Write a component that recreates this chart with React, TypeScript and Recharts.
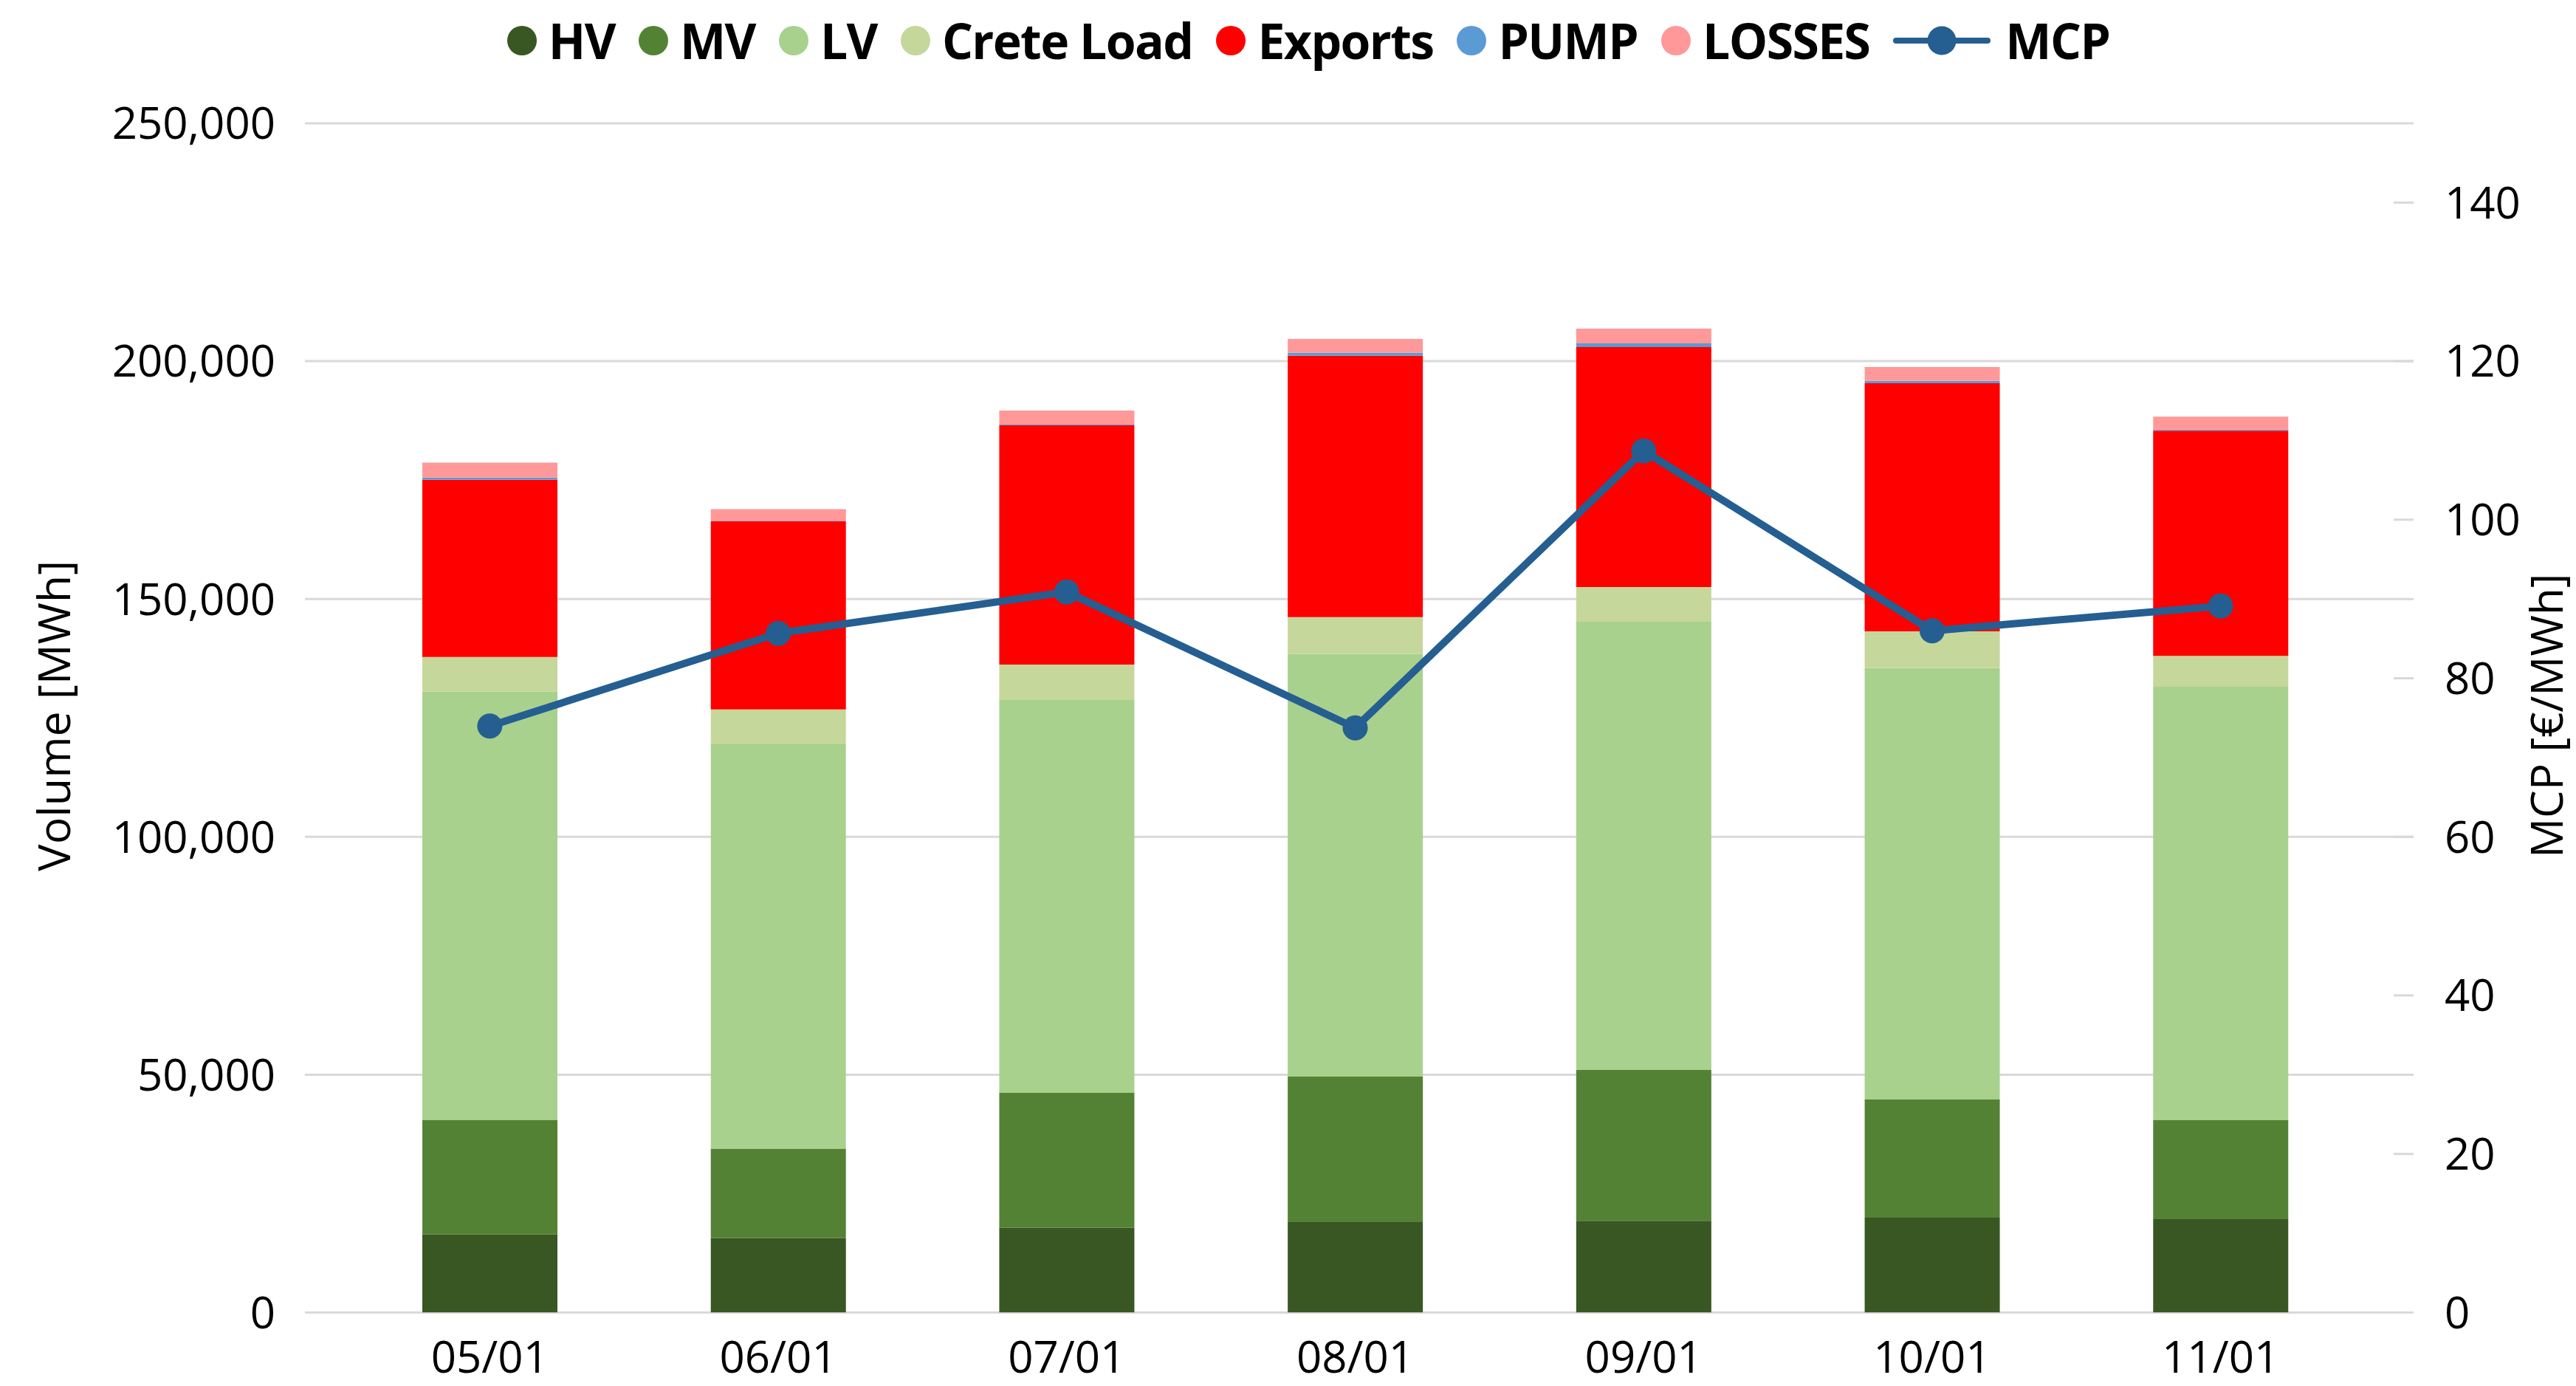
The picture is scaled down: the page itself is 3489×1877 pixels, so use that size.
import React from 'react';
import { ComposedChart, Bar, Line, XAxis, YAxis, CartesianGrid, Label } from 'recharts';

const categories = ['05/01', '06/01', '07/01', '08/01', '09/01', '10/01', '11/01'];
const hvValues = [16400, 15650, 17800, 19000, 19300, 19950, 19650];
const mvValues = [24100, 18800, 28400, 30600, 31700, 24850, 20800];
const lvValues = [90000, 85200, 82700, 88850, 94200, 90700, 91100];
const creteValues = [7300, 7150, 7300, 7750, 7300, 7700, 6500];
const exportsValues = [37250, 39550, 50300, 54950, 50450, 52150, 47350];
const pumpValues = [470, 100, 150, 620, 780, 510, 200];
const lossesValues = [3150, 2450, 2950, 2900, 3100, 2900, 2750];
const mcpValues = [73.97, 85.67, 90.89, 73.75, 108.68, 85.99, 89.12];

const leftTicks = [0, 50000, 100000, 150000, 200000, 250000];
const rightTicks = [0, 20, 40, 60, 80, 100, 120, 140];

const COLORS = {
  HV: '#385723',
  MV: '#548235',
  LV: '#A9D18E',
  'Crete Load': '#C5D79B',
  Exports: '#FF0000',
  PUMP: '#5B9BD5',
  LOSSES: '#FF9999',
  MCP: '#255E91',
};

const barSeries = ['HV', 'MV', 'LV', 'Crete Load', 'Exports', 'PUMP', 'LOSSES'];

const data = categories.map((month, i) => ({
  month,
  HV: hvValues[i],
  MV: mvValues[i],
  LV: lvValues[i],
  'Crete Load': creteValues[i],
  Exports: exportsValues[i],
  PUMP: pumpValues[i],
  LOSSES: lossesValues[i],
  MCP: mcpValues[i],
}));

const FONT = '"Open Sans", "Noto Sans", sans-serif';
const GRID = '#D9D9D9';

const RightTick = (props: any) => {
  const { x, y, payload } = props;
  const margin = 42;
  return (
    <g>
      <line x1={x - margin - 27} x2={x - margin} y1={y} y2={y} stroke={GRID} strokeWidth={3} />
      <text x={x} y={y} dy="0.355em" textAnchor="start" fontFamily={FONT} fontSize={60} fill="#000">
        {payload.value}
      </text>
    </g>
  );
};

const LeftTitle = (props: any) => {
  const vb = props.viewBox || { x: 0, y: 0, width: 0, height: 0 };
  const tx = vb.x + 95;
  const ty = vb.y + vb.height / 2 - 3;
  return (
    <text x={tx} y={ty} transform={`rotate(-90, ${tx}, ${ty})`} textAnchor="middle" fontFamily={FONT} fontSize={61} fill="#000">
      Volume [MWh]
    </text>
  );
};

const RightTitle = (props: any) => {
  const vb = props.viewBox || { x: 0, y: 0, width: 0, height: 0 };
  const tx = vb.x + 202;
  const ty = vb.y + vb.height / 2 - 3;
  return (
    <text x={tx} y={ty} transform={`rotate(-90, ${tx}, ${ty})`} textAnchor="middle" fontFamily={FONT} fontSize={60} fill="#000">
      MCP [€/MWh]
    </text>
  );
};

const LegendBar = () => (
  <div
    style={{
      position: 'absolute',
      top: 21,
      left: 0,
      width: 3544,
      display: 'flex',
      justifyContent: 'center',
      alignItems: 'center',
      fontFamily: FONT,
      fontWeight: 700,
      fontSize: 66,
      letterSpacing: '-1.6px',
      lineHeight: '67px',
      whiteSpace: 'nowrap',
      color: '#000',
    }}
  >
    {barSeries.map((name) => (
      <div key={name} style={{ display: 'flex', alignItems: 'center', marginRight: 32 }}>
        <span
          style={{
            display: 'inline-block',
            width: 40,
            height: 40,
            borderRadius: '50%',
            background: (COLORS as any)[name],
            marginRight: 16,
          }}
        />
        <span>{name}</span>
      </div>
    ))}
    <div style={{ display: 'flex', alignItems: 'center' }}>
      <svg width={132} height={40} style={{ marginRight: 20 }}>
        <line x1={4} x2={128} y1={20} y2={20} stroke={COLORS.MCP} strokeWidth={8} strokeLinecap="round" />
        <circle cx={66} cy={20} r={19.5} fill={COLORS.MCP} />
      </svg>
      <span>MCP</span>
    </div>
  </div>
);

export default function App() {
  return (
    <div style={{ position: 'absolute', left: 0, top: 0, width: 3489, height: 1877, background: '#fff' }}>
      <style>{'body{margin:0;}'}</style>
      <ComposedChart
        width={3489}
        height={1877}
        data={data}
        margin={{ top: 167, right: 0, bottom: 9.5, left: 0 }}
      >
        <CartesianGrid yAxisId="left" horizontal vertical={false} stroke={GRID} strokeWidth={3} />
        <XAxis
          dataKey="month"
          height={90}
          padding={{ left: 55, right: 66 }}
          axisLine={false}
          tickLine={false}
          tickSize={0}
          tickMargin={39}
          tick={{ fontFamily: FONT, fontSize: 60, fill: '#000' }}
          interval={0}
        />
        <YAxis
          yAxisId="left"
          orientation="left"
          width={413}
          domain={[0, 250000]}
          ticks={leftTicks}
          allowDataOverflow
          axisLine={false}
          tickLine={false}
          tickSize={0}
          tickMargin={40}
          tick={{ fontFamily: FONT, fontSize: 60, fill: '#000' }}
          tickFormatter={(v: number) => v.toLocaleString('en-US')}
          label={<Label content={LeftTitle} />}
        />
        <YAxis
          yAxisId="right"
          orientation="right"
          width={220}
          domain={[0, 150]}
          ticks={rightTicks}
          allowDataOverflow
          axisLine={false}
          tickLine={false}
          tickSize={0}
          tickMargin={42}
          tick={<RightTick />}
          label={<Label content={RightTitle} />}
        />
        {barSeries.map((name) => (
          <Bar
            key={name}
            yAxisId="left"
            dataKey={name}
            stackId="a"
            fill={(COLORS as any)[name]}
            barSize={183}
            isAnimationActive={false}
          />
        ))}
        <Line
          yAxisId="right"
          dataKey="MCP"
          type="linear"
          stroke={COLORS.MCP}
          strokeWidth={10}
          dot={{ r: 17, fill: COLORS.MCP, stroke: COLORS.MCP, strokeWidth: 0 }}
          activeDot={false}
          isAnimationActive={false}
        />
      </ComposedChart>
      <LegendBar />
    </div>
  );
}
